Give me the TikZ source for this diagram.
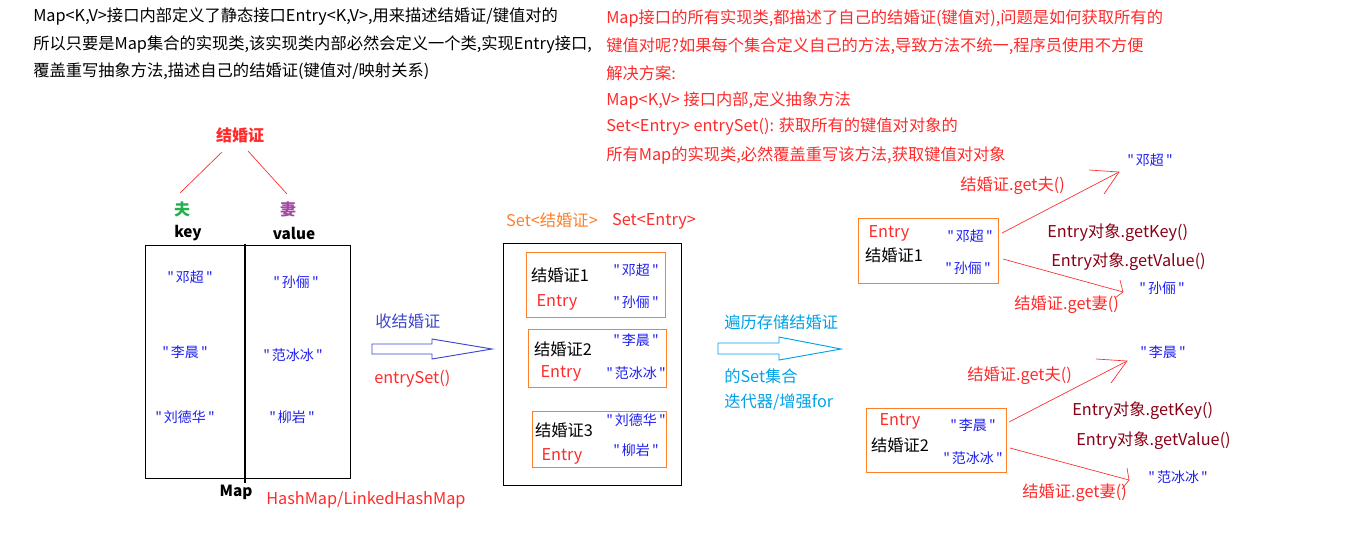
\documentclass[tikz,border=0pt]{standalone}
\usepackage{fontspec}
\setmainfont{Noto Sans CJK SC}
\setsansfont{Noto Sans CJK SC}
\newfontfamily\nmfont{Noto Sans CJK SC}
\newcommand{\dq}[1]{"\hspace{0.15em}#1\hspace{0.15em}"}
\begin{document}
\definecolor{myred}{HTML}{FF2A2A}
\definecolor{myblue}{HTML}{1E1EF0}
\definecolor{myorange}{HTML}{FF7F27}
\definecolor{mygreen}{HTML}{22B14C}
\definecolor{mypurple}{HTML}{A349A4}
\definecolor{mydark}{HTML}{880015}
\definecolor{mycyan}{HTML}{00A2E8}
\definecolor{myarrow}{HTML}{3F48CC}
\begin{tikzpicture}[x=0.75pt,y=-0.75pt,
  txt/.style={inner sep=0pt,font=\fontsize{12.2}{14}\selectfont},
  lt/.style={txt,anchor=west},
  nm/.style={inner sep=0pt,text=myblue,font=\nmfont\fontsize{10.5}{12}\selectfont},
  bk/.style={draw=black,line width=0.8pt},
  ob/.style={draw=myorange,line width=0.8pt},
  rl/.style={draw=myred,line width=0.5pt}]
\useasboundingbox (0,0) rectangle (1360,537);
% top left text
\node[lt] (t1) at (33,17) {Map<K,V>接口内部定义了静态接口Entry<K,V>,用来描述结婚证/键值对的};
\node[lt] (t2) at (33,44) {所以只要是Map集合的实现类,该实现类内部必然会定义一个类,实现Entry接口,};
\node[lt] (t3) at (33,71) {覆盖重写抽象方法,描述自己的结婚证(键值对/映射关系)};
% top right text
\begin{scope}[every node/.style={lt,text=myred}]
\node (r1) at (606,18) {Map接口的所有实现类,都描述了自己的结婚证(键值对),问题是如何获取所有的};
\node (r2) at (606,46) {键值对呢?如果每个集合定义自己的方法,导致方法不统一,程序员使用不方便};
\node (r3) at (606,73) {解决方案:};
\node (r4) at (606,100) {Map<K,V> 接口内部,定义抽象方法};
\node (r5) at (606,127) {Set<Entry> entrySet(): 获取所有的键值对对象的};
\node (r6) at (606,155) {所有Map的实现类,必然覆盖重写该方法,获取键值对对象};
\end{scope}
% Map part
\node[txt,text=myred,font=\fontsize{12}{14}\selectfont\bfseries] (jhz) at (240,135) {结婚证};
\coordinate (l1a) at (222,152); \coordinate (l1b) at (180,193);
\coordinate (l2a) at (248,151); \coordinate (l2b) at (287,194);
\draw[rl] (l1a) -- (l1b);
\draw[rl] (l2a) -- (l2b);
\node[txt,text=mygreen,font=\fontsize{12}{14}\selectfont\bfseries] (fu) at (182,209) {夫};
\node[txt,text=mypurple,font=\fontsize{12}{14}\selectfont\bfseries] (qi) at (288,209) {妻};
\node[txt,font=\fontsize{11.5}{13}\selectfont\bfseries] (key) at (188,233) {key};
\node[txt,font=\fontsize{11.5}{13}\selectfont\bfseries] (val) at (294,233) {value};
\node[bk,inner sep=0pt,minimum width=205*0.75pt,minimum height=233*0.75pt,anchor=north west] (map) at (145,245) {};
\coordinate (dv1) at (245,244); \coordinate (dv2) at (245,483);
\draw[line width=0.8pt] (dv1) -- (dv2);
\node[nm] (k1) at (190,277) {\dq{邓超}};
\node[nm] (v1) at (296,282) {\dq{孙俪}};
\node[nm] (k2) at (185,352) {\dq{李晨}};
\node[nm] (v2) at (293,355) {\dq{范冰冰}};
\node[nm] (k3) at (185,417) {\dq{刘德华}};
\node[nm] (v3) at (292,417) {\dq{柳岩}};
\node[txt,font=\fontsize{11.5}{13}\selectfont\bfseries] (maplbl) at (236,492) {Map};
\node[lt,text=myred] (hm) at (266,500) {HashMap/LinkedHashMap};
% arrow 1
\node[lt,text=myarrow] (shou) at (375,321) {收结婚证};
\node[lt,text=myred] (es) at (374,379) {entrySet()};
\draw[draw=myarrow,line width=0.7pt] (372,344) -- (432,344) -- (432,339) -- (492,349) -- (432,359) -- (432,354) -- (372,354) -- cycle;
% Set box
\node[txt,text=myorange] (setj) at (552,220) {Set<结婚证>};
\node[txt,text=myred] (sete) at (654,221) {Set<Entry>};
\node[bk,inner sep=0pt,minimum width=178*0.75pt,minimum height=242*0.75pt,anchor=north west] (setbox) at (503,243) {};
\node[ob,inner sep=0pt,minimum width=139*0.75pt,minimum height=65*0.75pt,anchor=north west] (b1) at (526,252) {};
\node[ob,inner sep=0pt,minimum width=138*0.75pt,minimum height=58*0.75pt,anchor=north west] (b2) at (528,329) {};
\node[ob,inner sep=0pt,minimum width=134*0.75pt,minimum height=56*0.75pt,anchor=north west] (b3) at (532,411) {};
\node[txt] (j1) at (560,275) {结婚证1};
\node[txt,text=myred] (e1) at (557,302) {Entry};
\node[nm] (s1k) at (636,270) {\dq{邓超}};
\node[nm] (s1v) at (636,302) {\dq{孙俪}};
\node[txt] (j2) at (563,349) {结婚证2};
\node[txt,text=myred] (e2) at (561,373) {Entry};
\node[nm] (s2k) at (636,340) {\dq{李晨}};
\node[nm] (s2v) at (636,373) {\dq{范冰冰}};
\node[txt] (j3) at (564,430) {结婚证3};
\node[txt,text=myred] (e3) at (562,456) {Entry};
\node[nm] (s3k) at (636,420) {\dq{刘德华}};
\node[nm] (s3v) at (636,450) {\dq{柳岩}};
% arrow 2
\node[lt,text=mycyan] (bl) at (724,322) {遍历存储结婚证};
\node[lt,text=mycyan] (ds) at (724,376) {的Set集合};
\node[lt,text=mycyan] (dd) at (724,402) {迭代器/增强for};
\draw[draw=mycyan,line width=0.7pt] (718,343) -- (779,343) -- (779,337) -- (841,349) -- (779,360) -- (779,354) -- (718,354) -- cycle;
% right entry 1
\node[ob,inner sep=0pt,minimum width=140*0.75pt,minimum height=65*0.75pt,anchor=north west] (eb1) at (858,218) {};
\node[txt,text=myred] (re1) at (889,233) {Entry};
\node[txt] (rj1) at (894,255) {结婚证1};
\node[nm] (rk1) at (970,236) {\dq{邓超}};
\node[nm] (rv1) at (968,268) {\dq{孙俪}};
\coordinate (a1s) at (1002,233); \coordinate (a1t) at (1119,172);
\coordinate (a1h1) at (1089,170); \coordinate (a1h2) at (1104,194);
\draw[rl] (a1s) -- (a1t); \draw[rl] (a1h1) -- (a1t) -- (a1h2);
\coordinate (a2s) at (1003,259); \coordinate (a2t) at (1123,292);
\coordinate (a2h1) at (1120,280); \coordinate (a2h2) at (1115,298);
\draw[rl] (a2s) -- (a2t); \draw[rl] (a2h1) -- (a2t) -- (a2h2);
\node[lt,text=myred] (gf1) at (960,186) {结婚证.get夫()};
\node[lt,text=mydark] (gk1) at (1047,233) {Entry对象.getKey()};
\node[lt,text=mydark] (gv1) at (1051,262) {Entry对象.getValue()};
\node[lt,text=myred] (gq1) at (1014,305) {结婚证.get妻()};
\node[nm] (ok1) at (1150,160) {\dq{邓超}};
\node[nm] (ov1) at (1162,288) {\dq{孙俪}};
% right entry 2
\node[ob,inner sep=0pt,minimum width=140*0.75pt,minimum height=64*0.75pt,anchor=north west] (eb2) at (866,408) {};
\node[txt,text=myred] (re2) at (900,421) {Entry};
\node[txt] (rj2) at (900,445) {结婚证2};
\node[nm] (rk2) at (973,425) {\dq{李晨}};
\node[nm] (rv2) at (973,458) {\dq{范冰冰}};
\coordinate (a3s) at (1009,422); \coordinate (a3t) at (1127,361);
\coordinate (a3h1) at (1096,359); \coordinate (a3h2) at (1111,383);
\draw[rl] (a3s) -- (a3t); \draw[rl] (a3h1) -- (a3t) -- (a3h2);
\coordinate (a4s) at (1010,448); \coordinate (a4t) at (1129,480);
\coordinate (a4h1) at (1127,468); \coordinate (a4h2) at (1122,489);
\draw[rl] (a4s) -- (a4t); \draw[rl] (a4h1) -- (a4t) -- (a4h2);
\node[lt,text=myred] (gf2) at (967,376) {结婚证.get夫()};
\node[lt,text=mydark] (gk2) at (1072,411) {Entry对象.getKey()};
\node[lt,text=mydark] (gv2) at (1076,441) {Entry对象.getValue()};
\node[lt,text=myred] (gq2) at (1022,493) {结婚证.get妻()};
\node[nm] (ok2) at (1163,352) {\dq{李晨}};
\node[nm] (ov2) at (1178,477) {\dq{范冰冰}};
\end{tikzpicture}
\end{document}
